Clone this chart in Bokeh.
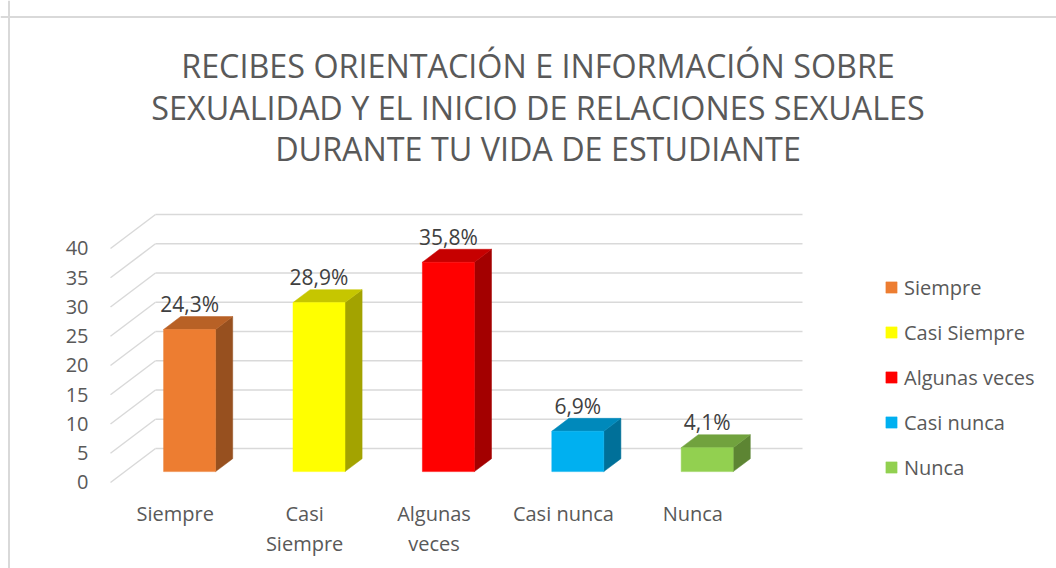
from bokeh.plotting import figure
from bokeh.models import ColumnDataSource, Span
from bokeh.embed import file_html
from bokeh.resources import INLINE
from bokeh.core.properties import value

# ---------------- data ----------------
TITLE_LINES = [
    "RECIBES ORIENTACIÓN E INFORMACIÓN SOBRE",
    "SEXUALIDAD Y EL INICIO DE RELACIONES SEXUALES",
    "DURANTE TU VIDA DE ESTUDIANTE",
]
CATEGORIES = ["Siempre", "Casi Siempre", "Algunas veces", "Casi nunca", "Nunca"]
CATEGORY_TICK_LINES = [["Siempre"], ["Casi", "Siempre"], ["Algunas", "veces"], ["Casi nunca"], ["Nunca"]]
VALUES = [24.3, 28.9, 35.8, 6.9, 4.1]
VALUE_LABELS = ["24,3%", "28,9%", "35,8%", "6,9%", "4,1%"]
Y_TICKS = [0, 5, 10, 15, 20, 25, 30, 35, 40]
Y_TICK_LABELS = ["0", "5", "10", "15", "20", "25", "30", "35", "40"]

# ---------------- styles ----------------
FRONT_COLORS = ["#ED7D31", "#FFFF00", "#FF0000", "#00B0F0", "#92D050"]
GRID_COLOR = "#D9D9D9"
TEXT_COLOR = "#595959"
LABEL_COLOR = "#404040"
FONT = "Open Sans"
TITLE_FS, LABEL_FS, TICK_FS = 32.3, 21, 20
BASE_SHIFT = 0.38   # empirical baseline correction, in em


def shade(hex_color, f):
    h = hex_color.lstrip("#")
    r, g, b = (int(h[i:i + 2], 16) for i in (0, 2, 4))
    return "#%02X%02X%02X" % (int(r * f), int(g * f), int(b * f))


TOP_COLORS = [shade(c, 0.78) for c in FRONT_COLORS]
SIDE_COLORS = [shade(c, 0.64) for c in FRONT_COLORS]

# ---------------- geometry (pixels -> data units) ----------------
W, H = 1056, 568
SX = 129.4   # px per category
SY = 5.85    # px per percent
ORIGIN_X, ORIGIN_Y = 110, 482   # px of the front-left floor corner

x_start = -ORIGIN_X / SX
x_end = x_start + W / SX
y_end = ORIGIN_Y / SY
y_start = y_end - H / SY


def dxu(px):
    return px / SX


def dyu(px):
    return px / SY


def X(px):
    return x_start + px / SX


def Y(py):
    return y_end - py / SY


DEPTH_X, DEPTH_Y = dxu(45), dyu(34)
T_FRONT, T_BACK = 0.32, 0.70
BAR_W = dxu(52)

p = figure(width=W, height=H, output_backend="svg", toolbar_location=None,
           x_range=(x_start, x_end), y_range=(y_start, y_end),
           x_axis_location=None, y_axis_location=None,
           min_border_left=0, min_border_right=0, min_border_bottom=0,
           min_border_top=0)
p.xgrid.visible = False
p.ygrid.visible = False
p.outline_line_color = None
p.background_fill_color = "white"
p.border_fill_color = "white"

# chart-area border (top and left visible)
p.add_layout(Span(location=X(8.5), dimension="height", line_color=GRID_COLOR, line_width=2))
p.add_layout(Span(location=Y(16.5), dimension="width", line_color=GRID_COLOR, line_width=2))

# ---------------- walls / gridlines ----------------
n = len(Y_TICKS)
ncat = len(CATEGORIES)
p.segment(x0=[0] * n, y0=Y_TICKS, x1=[DEPTH_X] * n, y1=[t + DEPTH_Y for t in Y_TICKS],
          line_color=GRID_COLOR, line_width=1.5)
p.segment(x0=[DEPTH_X] * n, y0=[t + DEPTH_Y for t in Y_TICKS],
          x1=[ncat + DEPTH_X] * n, y1=[t + DEPTH_Y for t in Y_TICKS],
          line_color=GRID_COLOR, line_width=1.5)

# ---------------- 3D bars ----------------
fx = T_FRONT * DEPTH_X
fy = T_FRONT * DEPTH_Y
d = (T_BACK - T_FRONT) * DEPTH_X
dd = (T_BACK - T_FRONT) * DEPTH_Y

xc = [i + 0.5 + fx for i in range(ncat)]
left = [c - BAR_W / 2 for c in xc]
right = [c + BAR_W / 2 for c in xc]
bottom = [fy] * ncat
top = [v + fy for v in VALUES]

side_xs = [[r, r + d, r + d, r] for r in right]
side_ys = [[b, b + dd, t + dd, t] for b, t in zip(bottom, top)]
p.patches(xs=side_xs, ys=side_ys, fill_color=SIDE_COLORS, line_color=SIDE_COLORS, line_width=0.5)

top_xs = [[l, r, r + d, l + d] for l, r in zip(left, right)]
top_ys = [[t, t, t + dd, t + dd] for t in top]
p.patches(xs=top_xs, ys=top_ys, fill_color=TOP_COLORS, line_color=TOP_COLORS, line_width=0.5)

src = ColumnDataSource(dict(left=left, right=right, bottom=bottom, top=top,
                            color=FRONT_COLORS, category=CATEGORIES))
p.quad(left="left", right="right", bottom="bottom", top="top", source=src,
       fill_color="color", line_color="color", line_width=0.5, legend_field="category")

# ---------------- texts ----------------
# title
tshift = BASE_SHIFT * TITLE_FS
p.text(x=[X(537.5)] * 3, y=[Y(77 - tshift), Y(118.5 - tshift), Y(160 - tshift)], text=TITLE_LINES,
       text_align="center", text_baseline="alphabetic",
       text_font=value(FONT), text_font_size=f"{TITLE_FS}px", text_color=TEXT_COLOR)

# data labels
lshift = BASE_SHIFT * LABEL_FS
p.text(x=xc, y=[t + dd + dyu(4.5 + lshift) for t in top], text=VALUE_LABELS,
       text_align="center", text_baseline="alphabetic",
       text_font=value(FONT), text_font_size=f"{LABEL_FS}px", text_color=LABEL_COLOR)

# y tick labels (front edge of side wall)
kshift = BASE_SHIFT * TICK_FS
p.text(x=[X(88)] * n, y=[t - dyu(7.5 - kshift) for t in Y_TICKS], text=Y_TICK_LABELS,
       text_align="right", text_baseline="alphabetic",
       text_font=value(FONT), text_font_size=f"{TICK_FS}px", text_color=TEXT_COLOR)

# category labels (front plane)
cx, cy, ct = [], [], []
for i, lines in enumerate(CATEGORY_TICK_LINES):
    for k, line in enumerate(lines):
        cx.append(i + 0.5)
        cy.append(Y(521 + 30 * k - kshift))
        ct.append(line)
p.text(x=cx, y=cy, text=ct, text_align="center", text_baseline="alphabetic",
       text_font=value(FONT), text_font_size=f"{TICK_FS}px", text_color=TEXT_COLOR)

# ---------------- legend ----------------
lg = p.legend[0]
lg.location = (884, 87.5)
lg.orientation = "vertical"
lg.glyph_width = 14
lg.glyph_height = 14
lg.label_height = 27
lg.spacing = 18
lg.padding = 0
lg.margin = 0
lg.label_standoff = 6
lg.border_line_color = None
lg.background_fill_alpha = 0
lg.label_text_font = FONT
lg.label_text_font_size = f"{TICK_FS}px"
lg.label_text_color = TEXT_COLOR
lg.label_text_baseline = "middle"

open("out.html", "w").write(file_html(p, INLINE))
